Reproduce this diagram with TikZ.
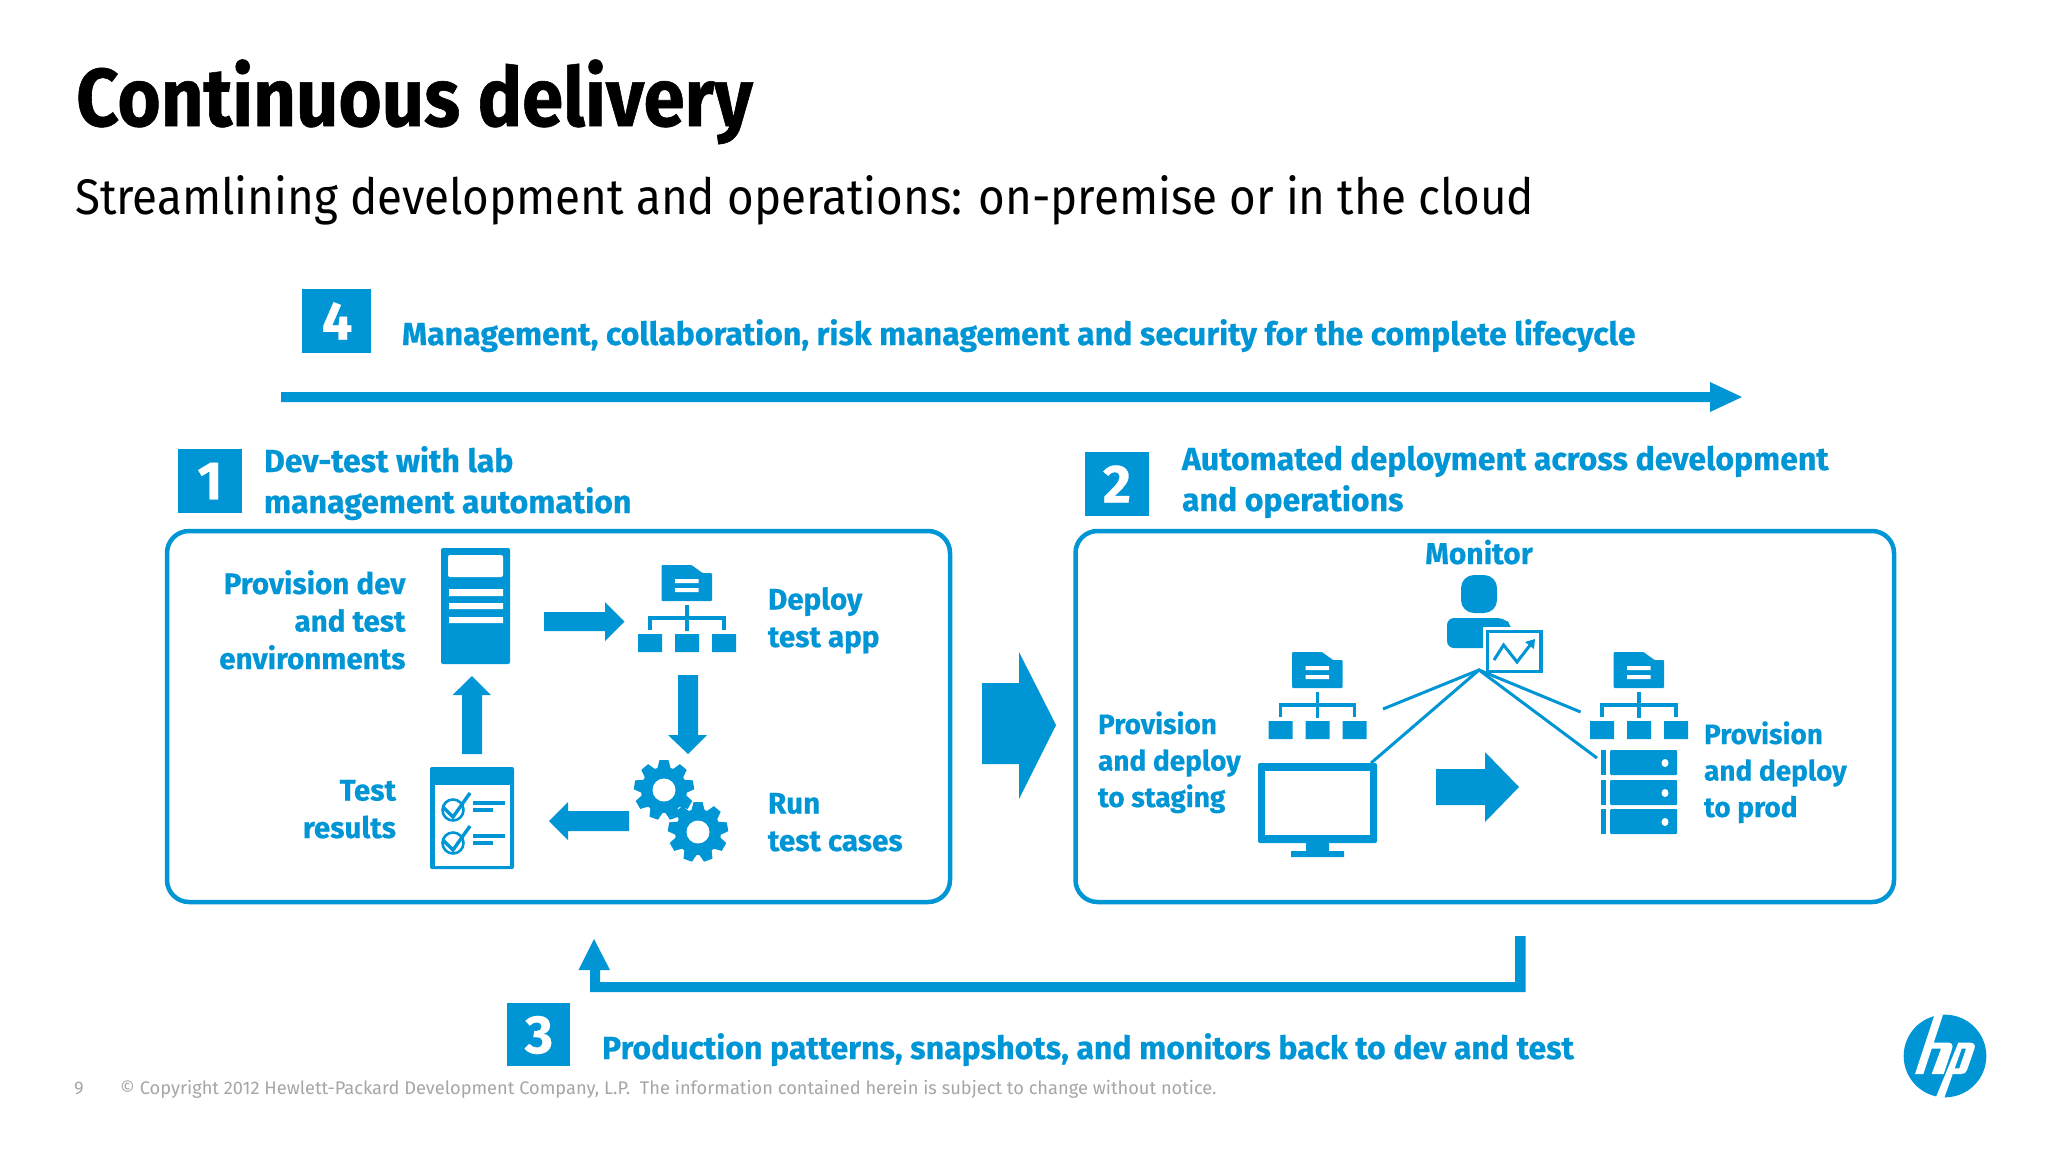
\documentclass[tikz,border=0pt]{standalone}
\usepackage{fontspec}
\setmainfont{Fira Sans}
\newfontfamily\titlefont{Fira Sans Bold}[FakeStretch=0.905,FakeBold=0.7]
\newfontfamily\subfont{Fira Sans}[FakeStretch=0.915]
\newfontfamily\bluefont{Fira Sans Bold}[FakeBold=0.5]
\usepackage{tikz}
\definecolor{hpblue}{HTML}{0096D6}
\definecolor{footgrey}{HTML}{A6A6A6}
\newcommand{\fs}[2]{\fontsize{#1}{#2}\selectfont}
\tikzset{
  icon/.style={fill=hpblue,draw=none},
  hole/.style={fill=white,draw=none},
  txt/.style={inner sep=0pt,outer sep=0pt,text=hpblue,font=\bluefont\fs{29.6}{37.5}},
  txtb/.style={txt,font=\bluefont\fs{28}{36.5}},
  head/.style={inner sep=0pt,outer sep=0pt,text=hpblue,font=\bluefont\fs{32}{41}},
  box/.style={draw=hpblue,line width=4.5pt,rounded corners=22pt,fill=white},
  badge/.style={icon},
  digit/.style={inner sep=0pt,text=white,font=\bluefont\fs{54}{54}},
  link/.style={draw=hpblue,line width=3pt},
  foot/.style={anchor=base west,inner sep=0pt,text=footgrey,font=\fs{18.25}{19}},
  pics/orgicon/.style={code={
    \fill[icon,rounded corners=1pt] (0,0)--(30,0)--(41,8)--(50.5,8)--(50.5,36)--(0,36)--cycle;
    \fill[hole] (13.5,14) rectangle (37,18) (13.5,23) rectangle (37,27);
    \draw[hpblue,line width=3.5pt] (25.5,40)--(25.5,66);
    \draw[hpblue,line width=3.5pt] (-11.5,65)--(-11.5,53)--(62.5,53)--(62.5,65);
    \fill[icon] (-23.5,69) rectangle (0.5,87) (13.5,69) rectangle (37.5,87) (50.5,69) rectangle (74.5,87);
  }},
  pics/gear/.style={code={
    \fill[icon] (0,0) circle (23);
    \foreach \a in {0,40,...,320} {
      \fill[icon,rotate=\a+10] (20,-7)--(30,-4.5)--(30,4.5)--(20,7)--cycle;
    }
    \fill[hole] (0,0) circle (11.5);
  }},
  pics/checkitem/.style={code={
    \draw[hpblue,line width=2.6pt] (0,0) circle (10.5);
    \draw[hpblue,line width=3.4pt] (-10,-3)--(0,7)--(17,-17);
    \draw[hpblue,line width=3.4pt] (20,-7)--(51.5,-7) (20,0)--(40,0);
  }}
}
\begin{document}
\begin{tikzpicture}[x=1pt,y=-1pt]
\useasboundingbox (0,0) rectangle (2048,1152);
\fill[white] (0,0) rectangle (2048,1152);

% Title
\node[anchor=base west,inner sep=0pt,font=\titlefont\fs{82}{82}] (title) at (76,126) {Continuous delivery};
\node[anchor=base west,inner sep=0pt,font=\subfont\fs{50}{50}] (subtitle) at (75,214) {Streamlining development and operations: on-premise or in the cloud};

% Step 4
\fill[badge] (302,289) rectangle (371,353);
\node[digit] (d4) at (337,321) {4};
\node[head,anchor=base west] (t4) at (402,345) {Management, collaboration, risk management and security for the complete lifecycle};
\fill[icon] (281,392)--(1710,392)--(1710,382)--(1742,397)--(1710,412)--(1710,402)--(281,402)--cycle;

% Step 1
\fill[badge] (178,449) rectangle (242,513);
\node[digit] (d1) at (210,481) {1};
\node[head,anchor=base west,align=left] (t1) at (264,513) {Dev-test with lab\\management automation};
\draw[box] (167,531) rectangle (950,902);

\node[txt,anchor=base east,align=right] (provdev) at (405.5,669) {Provision dev\\and test\\environments};
\fill[icon,rounded corners=2pt] (441,548) rectangle (510,664);
\fill[hole,rounded corners=2pt] (448,555) rectangle (503,577);
\fill[hole] (449,589) rectangle (503,596) (449,603) rectangle (503,609) (449,617) rectangle (503,623);
\fill[icon] (544,612)--(605,612)--(605,602)--(624.5,621.5)--(605,641)--(605,631)--(544,631)--cycle;
\pic at (661.5,565) {orgicon};
\node[txt,anchor=base west,align=left] (deploy) at (768,647) {Deploy\\test app};
\fill[icon] (678,675)--(698,675)--(698,735)--(707,735)--(688,754)--(668,735)--(678,735)--cycle;
\pic at (664,790) {gear};
\pic at (698,832) {gear};
\node[txt,anchor=base west,align=left] (run) at (768,851) {Run\\test cases};
\fill[icon] (629,811)--(568,811)--(568,802)--(549,821)--(568,840)--(568,831)--(629,831)--cycle;
\fill[icon,rounded corners=2pt] (430,767) rectangle (514,869);
\fill[hole] (434.6,785) rectangle (510,866);
\pic at (453,810) {checkitem};
\pic at (453,843) {checkitem};
\node[txt,anchor=base east,align=right] (results) at (396,838) {Test\\results};
\fill[icon] (462,754)--(462,695)--(452.6,695)--(472,676)--(491,695)--(482,695)--(482,754)--cycle;

% Arrow between panels
\fill[icon] (982,683)--(1019,683)--(1019,652)--(1056,725)--(1019,799)--(1019,764)--(982,764)--cycle;

% Step 2
\fill[badge] (1085,452) rectangle (1149,516);
\node[digit] (d2) at (1117,484) {2};
\node[head,anchor=base west,align=left] (t2) at (1182,511) {Automated deployment across development\\and operations};
\draw[box] (1075.5,531) rectangle (1894,902);

\node[txt,anchor=base,font=\bluefont\fs{30}{30}] (monitor) at (1479,564) {Monitor};
\fill[icon,rounded corners=13pt] (1461,575) rectangle (1497,613);
\fill[icon,rounded corners=7pt] (1447,618)--(1504,618)--(1512,626)--(1512,648)--(1447,648)--cycle;
\fill[hole] (1483,627) rectangle (1546,676);
\draw[hpblue,line width=3.5pt] (1487.5,631.5) rectangle (1541,671.5);
\draw[hpblue,line width=3pt,line join=miter] (1494,660)--(1503.6,645)--(1517,662)--(1531,644);
\fill[icon] (1535,639)--(1525,642)--(1534,649)--cycle;

\coordinate (apex) at (1479,670);
\coordinate (orgl) at (1383,709);
\coordinate (orgr) at (1580.6,712);
\coordinate (scr) at (1371,763);
\coordinate (srv) at (1597,758);
\draw[link] (orgl)--(apex)--(orgr);
\draw[link] (scr)--(apex)--(srv);

\pic at (1292,652) {orgicon};
\pic at (1613.5,652) {orgicon};
\node[txtb,anchor=base west,align=left] (staging) at (1098,807) {Provision\\and deploy\\to staging};
\node[txtb,anchor=base west,align=left] (prod) at (1704,817) {Provision\\and deploy\\to prod};

\fill[icon,rounded corners=2pt] (1258,763) rectangle (1377,843);
\fill[hole] (1265,771) rectangle (1370,835);
\fill[icon] (1306,843) rectangle (1329,851) (1291,851) rectangle (1344,857);

\fill[icon] (1436,769)--(1485,769)--(1485,752)--(1519,787)--(1485,822)--(1485,805)--(1436,805)--cycle;

\foreach \yy in {750,780,809} {
  \fill[icon] (1601,\yy) rectangle (1605.5,\yy+25);
  \fill[icon,rounded corners=1pt] (1610,\yy) rectangle (1677,\yy+25);
  \fill[hole] (1665,\yy+13) ellipse (3.5 and 4);
}

% Step 3
\fill[icon] (1515,936)--(1525.5,936)--(1525.5,992)--(590,992)--(590,970)--(578.6,970)--(594,939)--(610,970)--(600,970)--(600,982)--(1515,982)--cycle;
\fill[badge] (507,1003) rectangle (569.5,1066);
\node[digit] (d3) at (539,1035) {3};
\node[head,anchor=base west] (t3) at (602,1059) {Production patterns, snapshots, and monitors back to dev and test};

% Footer
\node[foot] (page) at (74,1094) {9};
\node[foot] (legal) at (120,1094) {© Copyright 2012 Hewlett-Packard Development Company, L.P.\ \ The information contained herein is subject to change without notice.};

% HP logo
\begin{scope}[shift={(1880,1000)},x=0.3333pt,y=-0.3333pt]
\fill[icon] (195,168) circle (124);
\fill[hole] (163,46)--(189,44)--(130,222)--(105,222)--cycle;
\fill[hole] (150,128)--(205,128) .. controls (216,128) and (220,136) .. (216,147)--(191,222)--(155,222)--(183,146)--(145,146)--cycle;
\fill[hole] (235,128)--(270,128) .. controls (283,128) and (287,136) .. (283,147)--(261,210) .. controls (258,219) and (252,222) .. (243,222)--(215,222)--(221,205)--(238,205)--(258,146)--(245,146)--(193,293)--(168,291)--cycle;
\end{scope}
\end{tikzpicture}
\end{document}
